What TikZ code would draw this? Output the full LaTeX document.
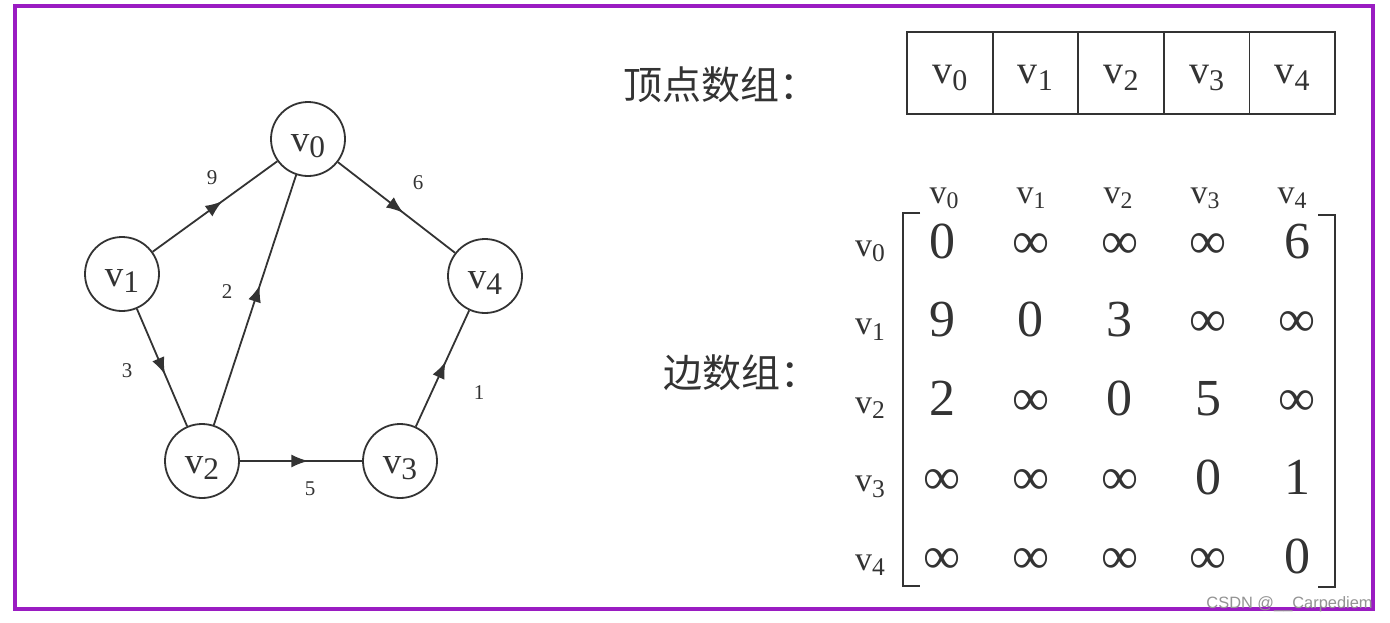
\documentclass[tikz,border=0pt]{standalone}
\usepackage{fontspec}
\setmainfont{Liberation Serif}
\newfontfamily\cjkfont{Noto Sans CJK SC}
\newfontfamily\wmfont{Liberation Sans}
\usetikzlibrary{arrows.meta,decorations.markings}

\definecolor{framepurple}{HTML}{9A1CC2}
\definecolor{ink}{HTML}{333333}

% v with a lowered, slightly smaller index
\newcommand{\vsub}[2][0.8]{v\raisebox{-0.17em}{\scalebox{#1}{#2}}}

\begin{document}
\begin{tikzpicture}[
		x=0.5pt, y=-0.5pt,
		vertex/.style={circle, draw=ink, line width=0.9pt, minimum size=37pt, inner sep=0pt, text height=12pt, text depth=0pt, text=ink, font=\fontsize{18.5}{18.5}\selectfont},
		edge/.style={color=ink, line width=0.9pt, postaction={decorate}, decoration={markings, mark=at position 0.56 with {\arrow{Latex[length=8.5pt, width=6.5pt]}}}},
		weight/.style={inner sep=0pt, text=ink, font=\fontsize{10.5}{10.5}\selectfont},
		cell/.style={draw=ink, line width=0.9pt, minimum width=42.8pt, minimum height=41pt, inner sep=0pt, text height=10.2pt, text depth=0pt, text=ink, font=\fontsize{20}{20}\selectfont},
		entry/.style={anchor=base, inner sep=0pt, text=ink, font=\fontsize{26}{26}\selectfont},
		vlabel/.style={anchor=base, inner sep=0pt, text=ink, font=\fontsize{17}{17}\selectfont},
		caption/.style={anchor=west, inner sep=0pt, text=ink, font=\cjkfont\fontsize{19.5}{19.5}\selectfont},
		bracket/.style={draw=ink, line width=1.3pt}
		]
		
		\useasboundingbox[fill=white] (0,0) rectangle (1390,622);
		\draw[framepurple, line width=1.6pt] (15,6) rectangle (1373,609);
		
		%==================== Graph ====================%
		\node[vertex] (v0) at (308,139) {\vsub[0.85]{0}};
		\node[vertex] (v1) at (122,274) {\vsub[0.85]{1}};
		\node[vertex] (v4) at (485,276) {\vsub[0.85]{4}};
		\node[vertex] (v2) at (202,461) {\vsub[0.85]{2}};
		\node[vertex] (v3) at (400,461) {\vsub[0.85]{3}};
		
		\draw[edge] (v1) -- (v0);
		\draw[edge] (v0) -- (v4);
		\draw[edge] (v2) -- (v0);
		\draw[edge] (v1) -- (v2);
		\draw[edge] (v2) -- (v3);
		\draw[edge] (v3) -- (v4);
		
		\node[weight] (w10) at (212,178) {9};
		\node[weight] (w04) at (418,183) {6};
		\node[weight] (w20) at (227,292) {2};
		\node[weight] (w12) at (127,371) {3};
		\node[weight] (w23) at (310,489) {5};
		\node[weight] (w34) at (479,393) {1};
		
		%==================== Vertex array ====================%
		\node[caption] (vcap) at (623,85) {顶点数组：};
		\foreach \i in {0,...,4}
			\node[cell] (a\i) at ({907+85.6*(\i+0.5)},73) {\vsub[0.75]{\i}};
		
		%==================== Edge matrix ====================%
		\node[caption] (ecap) at (663,373) {边数组：};
		
		\foreach \c in {0,...,4}
			\node[vlabel] (h\c) at ({944+87*\c},203) {\vsub[0.7]{\c}};
		\foreach \r in {0,...,4}
			\node[vlabel] (r\r) at (870,{256+78.5*\r}) {\vsub[0.75]{\r}};
		
		\foreach \row [count=\r from 0] in {{0,∞,∞,∞,6},{9,0,3,∞,∞},{2,∞,0,5,∞},{∞,∞,∞,0,1},{∞,∞,∞,∞,0}}
			\foreach \e [count=\c from 0] in \row
				\node[entry] (m\r\c) at ({942+88.8*\c},{258+78.8*\r}) {\e};
		
		\draw[bracket] (920,213) -- (903,213) -- (903,586) -- (920,586);
		\draw[bracket] (1318,215) -- (1335,215) -- (1335,587) -- (1318,587);
		
		\node[anchor=south east, inner sep=0pt, text=gray!85, font=\wmfont\fontsize{8.2}{8.2}\selectfont] (wm) at (1373,612) {CSDN @\_\_Carpediem};
		
	\end{tikzpicture}
\end{document}
